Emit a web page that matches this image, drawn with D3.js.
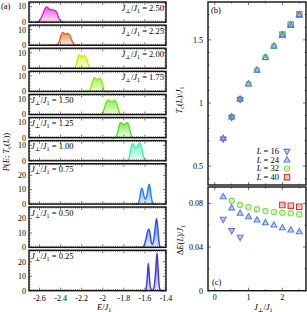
<!DOCTYPE html>
<html>
<head>
<meta charset="utf-8">
<script src="https://cdn.jsdelivr.net/npm/d3@7/dist/d3.min.js"></script>
<style>
    body { margin: 0; background: #fff; }
    svg { display: block; }
    text { font-family: "Liberation Serif", "DejaVu Serif", serif; fill: #000; }
</style>
</head>
<body>
<svg id="chart" width="307" height="312"></svg>
<script>
// ---- panel (a): energy histograms, one per coupling ----
const couplings = ['2.50', '2.25', '2.00', '1.75', '1.50', '1.25', '1.00', '0.75', '0.50', '0.25']
const curveColors = ['#e41fd2', '#e2661e', '#d4ec12', '#86ee10', '#6ce818', '#5ade2a', '#46eeb0', '#2a7cf6', '#2850f4', '#3a34ea']

const dist250 = [[-2.63, 0], [-2.61, 0.3], [-2.59, 2], [-2.57, 5], [-2.55, 8.5], [-2.535, 9.8], [-2.52, 9.3], [-2.5, 8.2], [-2.482, 8], [-2.465, 7.8], [-2.45, 7.4], [-2.435, 6], [-2.42, 3], [-2.4, 0.8], [-2.385, 0], [-2.37, 0]]
const dist225 = [[-2.52, 0], [-2.45, 0], [-2.43, 0.5], [-2.41, 3], [-2.395, 6.5], [-2.38, 8.3], [-2.365, 7.6], [-2.355, 7.2], [-2.34, 7.6], [-2.325, 7.4], [-2.31, 6], [-2.29, 2.5], [-2.27, 0.3], [-2.26, 0], [-2.22, 0]]
const dist200 = [[-2.36, 0], [-2.28, 0], [-2.265, 0.5], [-2.25, 3], [-2.235, 7], [-2.222, 8.8], [-2.21, 8.2], [-2.197, 7.5], [-2.183, 8], [-2.17, 8.1], [-2.155, 6.5], [-2.14, 3], [-2.128, 0.5], [-2.12, 0], [-2.08, 0]]
const dist175 = [[-2.2, 0], [-2.14, 0], [-2.125, 0.5], [-2.11, 3], [-2.095, 7], [-2.08, 9], [-2.066, 8.2], [-2.052, 7.5], [-2.038, 8.2], [-2.025, 8.5], [-2.01, 6.5], [-1.998, 3], [-1.988, 0.5], [-1.98, 0], [-1.93, 0]]
const dist150 = [[-2.06, 0], [-2.02, 0], [-2.005, 0.5], [-1.99, 3], [-1.97, 7.5], [-1.95, 9.5], [-1.932, 8.8], [-1.915, 8], [-1.898, 8.8], [-1.885, 9.3], [-1.868, 7], [-1.85, 3], [-1.835, 0.5], [-1.825, 0], [-1.79, 0]]
const dist125 = [[-1.92, 0], [-1.885, 0], [-1.872, 0.5], [-1.858, 3.5], [-1.845, 7.5], [-1.83, 9.8], [-1.815, 9], [-1.8, 8.2], [-1.785, 9], [-1.768, 9.6], [-1.752, 7.5], [-1.737, 3.5], [-1.722, 0.5], [-1.712, 0], [-1.69, 0]]
const dist100 = [[-1.82, 0], [-1.77, 0], [-1.757, 0.5], [-1.743, 4], [-1.73, 9], [-1.716, 11], [-1.7, 9.5], [-1.685, 8.2], [-1.67, 9.5], [-1.655, 11.2], [-1.645, 11.3], [-1.63, 8], [-1.615, 3], [-1.6, 0.5], [-1.59, 0], [-1.57, 0]]
const dist075 = [[-1.71, 0], [-1.67, 0], [-1.66, 1], [-1.648, 5], [-1.638, 9.5], [-1.63, 11], [-1.62, 9.5], [-1.607, 5], [-1.595, 3.3], [-1.583, 5.5], [-1.57, 11], [-1.56, 13.8], [-1.55, 11], [-1.54, 5], [-1.53, 1.5], [-1.52, 0], [-1.5, 0]]
const dist050 = [[-1.65, 0], [-1.62, 0], [-1.605, 2], [-1.59, 6], [-1.575, 11], [-1.562, 12.6], [-1.55, 9], [-1.538, 3], [-1.528, 2], [-1.515, 6], [-1.502, 14], [-1.49, 20], [-1.478, 14], [-1.468, 5], [-1.458, 0.5], [-1.45, 0], [-1.42, 0]]
const dist025 = [[-1.62, 0], [-1.595, 0], [-1.585, 3], [-1.575, 12], [-1.568, 19], [-1.56, 12], [-1.548, 2], [-1.53, 0.3], [-1.515, 2], [-1.502, 10], [-1.492, 21], [-1.485, 26], [-1.477, 18], [-1.467, 5], [-1.455, 0.5], [-1.445, 0], [-1.42, 0]]
const distributions = [dist250, dist225, dist200, dist175, dist150, dist125, dist100, dist075, dist050, dist025]

const energyTicks = [-2.6, -2.4, -2.2, -2, -1.8, -1.6, -1.4]

// ---- panels (b) and (c): Tc(L) and latent heat vs J_perp ----
const jAll = [0.25, 0.5, 0.75, 1.0, 1.25, 1.5, 1.75, 2.0, 2.25, 2.5]
const jL16 = [0.25, 0.5, 0.75]
const jL32 = [0.5, 0.75, 1.0, 1.25, 1.5, 1.75, 2.0, 2.25, 2.5]
const jL40 = [2.0, 2.25, 2.5]

const tcL16 = [0.715, 0.885, 1.028]
const tcL24 = [0.72, 0.89, 1.03, 1.15, 1.26, 1.36, 1.45, 1.54, 1.62, 1.70]
const tcL32 = [0.892, 1.032, 1.152, 1.262, 1.362, 1.452, 1.542, 1.622, 1.702]
const tcL40 = [1.54, 1.62, 1.70]

const dEL16 = [0.0654, 0.0550, 0.0489]
const dEL24 = [0.0861, 0.0759, 0.0709, 0.0678, 0.0648, 0.0623, 0.0602, 0.0577, 0.0556, 0.0540]
const dEL32 = [0.0824, 0.0785, 0.0764, 0.0746, 0.0730, 0.0721, 0.0714, 0.0709, 0.0700]
const dEL40 = [0.0785, 0.0779, 0.0769]

const sizes = ['16', '24', '32', '40']

const svg = d3.select('#chart')
const defs = svg.append('defs')
const frameColor = '#111'

// Draws a box with inward ticks on all four sides.
function drawFrame(g, x, y, xMinor, xMajor, yMinor, yMajor) {
    const [x0, x1] = x.range()
    const [y1, y0] = y.range()
    const tickPath = d3.path()
    xMinor.forEach(v => {
        const len = xMajor.some(m => Math.abs(m - v) < 1e-6) ? 3 : 1.5
        tickPath.moveTo(x(v), y1); tickPath.lineTo(x(v), y1 - len)
        tickPath.moveTo(x(v), y0); tickPath.lineTo(x(v), y0 + len)
    })
    yMinor.forEach(v => {
        const len = yMajor.some(m => Math.abs(m - v) < 1e-6) ? 3 : 1.5
        tickPath.moveTo(x0, y(v)); tickPath.lineTo(x0 + len, y(v))
        tickPath.moveTo(x1, y(v)); tickPath.lineTo(x1 - len, y(v))
    })
    g.append('path')
        .attr('d', tickPath.toString())
        .attr('stroke', '#333')
        .attr('stroke-width', 0.7)
        .attr('fill', 'none')
    g.append('rect')
        .attr('x', x0).attr('y', y0)
        .attr('width', x1 - x0).attr('height', y1 - y0)
        .attr('fill', 'none')
        .attr('stroke', frameColor)
        .attr('stroke-width', 1.4)
}

// J_perp / J_1 label built from tspans
function couplingLabel(sel, value) {
    sel.append('tspan').attr('font-style', 'italic').text('J')
    sel.append('tspan').attr('font-size', '6px').attr('dy', 2).text('⊥')
    sel.append('tspan').attr('dy', -2).text('/')
    sel.append('tspan').attr('font-style', 'italic').text('J')
    sel.append('tspan').attr('font-size', '6px').attr('dy', 2).text('1')
    if (value !== undefined) sel.append('tspan').attr('dy', -2).text(' = ' + value)
}

// ---------------- panel (a) ----------------
const aLeft = 29, aRight = 166
const xE = d3.scaleLinear().domain([-2.7, -1.4]).range([aLeft, aRight])
const xMinorE = d3.range(0, 66).map(i => +(-2.7 + i * 0.02).toFixed(2))

let panelTop = 2
couplings.forEach((c, i) => {
    const big = i >= 7
    const h = big ? 40.4 : 20.2
    const yMax = big ? 28 : 13
    const y = d3.scaleLinear().domain([0, yMax]).range([panelTop + h, panelTop])
    const g = svg.append('g')

    const grad = defs.append('linearGradient')
        .attr('id', 'grad' + i)
        .attr('x1', 0).attr('y1', 0).attr('x2', 0).attr('y2', 1)
    grad.append('stop').attr('offset', '0%').attr('stop-color', curveColors[i]).attr('stop-opacity', 0.75)
    grad.append('stop').attr('offset', '100%').attr('stop-color', curveColors[i]).attr('stop-opacity', 0.12)

    const area = d3.area().x(d => xE(d[0])).y0(y(0)).y1(d => y(d[1])).curve(d3.curveMonotoneX)
    const line = d3.line().x(d => xE(d[0])).y(d => y(d[1])).curve(d3.curveMonotoneX)

    g.append('path')
        .datum(distributions[i])
        .attr('d', area)
        .attr('fill', `url(#grad${i})`)
    g.append('path')
        .datum(distributions[i])
        .attr('d', line)
        .attr('fill', 'none')
        .attr('stroke', curveColors[i])
        .attr('stroke-width', 1.4)

    const yMajor = big ? [0, 10, 20] : [0, 10]
    const yMinor = d3.range(0, yMax + 0.01, 2)
    drawFrame(g, xE, y, xMinorE, energyTicks, yMinor, yMajor)

    g.selectAll('.ylab')
        .data(yMajor)
        .join('text')
        .attr('x', aLeft - 3)
        .attr('y', d => y(d) + 2.8)
        .attr('text-anchor', 'end')
        .attr('font-size', '8px')
        .text(d => d)

    const lab = g.append('text')
        .attr('font-size', '8.5px')
        .attr('y', panelTop + 8.5)
    if (i < 4) {
        lab.attr('x', aRight - 2).attr('text-anchor', 'end')
    } else {
        lab.attr('x', aLeft + 2)
    }
    couplingLabel(lab, c)

    panelTop += h + 2.9
})

svg.selectAll('.xlabE')
    .data(energyTicks)
    .join('text')
    .attr('x', d => xE(d))
    .attr('y', 301)
    .attr('text-anchor', 'middle')
    .attr('font-size', '8px')
    .text(d => String(d))

const eLab = svg.append('text').attr('x', 97).attr('y', 310).attr('font-size', '8.5px')
eLab.append('tspan').attr('font-style', 'italic').text('E')
eLab.append('tspan').text('/')
eLab.append('tspan').attr('font-style', 'italic').text('J')
eLab.append('tspan').attr('font-size', '6px').attr('dy', 2).text('1')

const pLab = svg.append('text')
    .attr('transform', 'translate(9,152) rotate(-90)')
    .attr('text-anchor', 'middle')
    .attr('font-size', '8.5px')
pLab.append('tspan').attr('font-style', 'italic').text('P')
pLab.append('tspan').text('(')
pLab.append('tspan').attr('font-style', 'italic').text('E')
pLab.append('tspan').text('; ')
pLab.append('tspan').attr('font-style', 'italic').text('T')
pLab.append('tspan').attr('font-size', '6px').attr('dy', 2).text('c')
pLab.append('tspan').attr('dy', -2).text('(')
pLab.append('tspan').attr('font-style', 'italic').text('L')
pLab.append('tspan').text('))')

svg.append('text').attr('x', 1).attr('y', 9).attr('font-size', '8.5px').text('(a)')

// ---------------- panels (b) and (c) ----------------
const xJ = d3.scaleLinear().domain([-0.2, 2.7]).range([208, 306])
const yTc = d3.scaleLinear().domain([0.35, 1.8]).range([185, 2])
const yDE = d3.scaleLinear().domain([0, 0.095]).range([290.7, 187])

const markerStyle = {
    '16': {color: '#6a66ee', shape: 'down'},
    '24': {color: '#4a78f2', shape: 'up'},
    '32': {color: '#7ee04c', shape: 'circle'},
    '40': {color: '#e22e2a', shape: 'square'}
}

function markerPath(shape) {
    if (shape === 'up') return 'M0,-3.2L2.9,2L-2.9,2Z'
    if (shape === 'down') return 'M0,3.2L2.9,-2L-2.9,-2Z'
    if (shape === 'square') return 'M-2.7,-2.7H2.7V2.7H-2.7Z'
    return d3.symbol(d3.symbolCircle, 22)()
}

function drawSeries(g, xs, ys, yScale, L) {
    const st = markerStyle[L]
    const pts = xs.map((v, k) => [v, ys[k]])
    const m = g.selectAll('.m' + L)
        .data(pts)
        .join('g')
        .attr('class', 'm' + L)
        .attr('transform', d => `translate(${xJ(d[0])},${yScale(d[1])})`)
    m.append('path')
        .attr('d', markerPath(st.shape))
        .attr('fill', st.color)
        .attr('fill-opacity', 0.18)
        .attr('stroke', st.color)
        .attr('stroke-width', 1.1)
    m.append('circle').attr('r', 0.5).attr('fill', st.color)
}

const gB = svg.append('g')
drawFrame(gB, xJ, yTc, d3.range(0, 2.51, 0.5), [0, 1, 2], d3.range(4, 18).map(k => k / 10), [0.5, 1, 1.5])
drawSeries(gB, jL40, tcL40, yTc, '40')
drawSeries(gB, jL32, tcL32, yTc, '32')
drawSeries(gB, jAll, tcL24, yTc, '24')
drawSeries(gB, jL16, tcL16, yTc, '16')

gB.selectAll('.ytc')
    .data([0.5, 1, 1.5])
    .join('text')
    .attr('x', 203)
    .attr('y', d => yTc(d) + 2.8)
    .attr('text-anchor', 'end')
    .attr('font-size', '8px')
    .text(d => String(d))

svg.append('text').attr('x', 211).attr('y', 13).attr('font-size', '8.5px').text('(b)')

// legend
sizes.forEach((L, k) => {
    const yy = 154 + k * 8.6
    const t = gB.append('text').attr('x', 279).attr('y', yy).attr('text-anchor', 'end').attr('font-size', '8.5px')
    t.append('tspan').attr('font-style', 'italic').text('L')
    t.append('tspan').text(' = ' + L)
    const st = markerStyle[L]
    const mk = gB.append('g').attr('transform', `translate(287,${yy - 2.6})`)
    mk.append('path').attr('d', markerPath(st.shape)).attr('fill', st.color).attr('fill-opacity', 0.18)
        .attr('stroke', st.color).attr('stroke-width', 1.1)
    mk.append('circle').attr('r', 0.5).attr('fill', st.color)
})

const tcLab = svg.append('text')
    .attr('transform', 'translate(182,100) rotate(-90)')
    .attr('text-anchor', 'middle')
    .attr('font-size', '8.5px')
tcLab.append('tspan').attr('font-style', 'italic').text('T')
tcLab.append('tspan').attr('font-size', '6px').attr('dy', 2).text('c')
tcLab.append('tspan').attr('dy', -2).text('(')
tcLab.append('tspan').attr('font-style', 'italic').text('L')
tcLab.append('tspan').text(')/')
tcLab.append('tspan').attr('font-style', 'italic').text('J')
tcLab.append('tspan').attr('font-size', '6px').attr('dy', 2).text('1')

const gC = svg.append('g')
drawFrame(gC, xJ, yDE, d3.range(0, 2.51, 0.5), [0, 1, 2], [0, 0.02, 0.04, 0.06, 0.08], [0, 0.04, 0.08])
drawSeries(gC, jL40, dEL40, yDE, '40')
drawSeries(gC, jL32, dEL32, yDE, '32')
drawSeries(gC, jAll, dEL24, yDE, '24')
drawSeries(gC, jL16, dEL16, yDE, '16')

gC.selectAll('.yde')
    .data([0, 0.04, 0.08])
    .join('text')
    .attr('x', 203)
    .attr('y', d => yDE(d) + 2.8)
    .attr('text-anchor', 'end')
    .attr('font-size', '8px')
    .text(d => String(d))

gC.selectAll('.xj')
    .data([0, 1, 2])
    .join('text')
    .attr('x', d => xJ(d))
    .attr('y', 300)
    .attr('text-anchor', 'middle')
    .attr('font-size', '8px')
    .text(d => d)

svg.append('text').attr('x', 212).attr('y', 285).attr('font-size', '8.5px').text('(c)')

const jLab = svg.append('text').attr('x', 254).attr('y', 310).attr('font-size', '8.5px')
couplingLabel(jLab)

const deLab = svg.append('text')
    .attr('transform', 'translate(183,240) rotate(-90)')
    .attr('text-anchor', 'middle')
    .attr('font-size', '8.5px')
deLab.append('tspan').text('Δ')
deLab.append('tspan').attr('font-style', 'italic').text('E')
deLab.append('tspan').text('(')
deLab.append('tspan').attr('font-style', 'italic').text('L')
deLab.append('tspan').text(')/')
deLab.append('tspan').attr('font-style', 'italic').text('J')
deLab.append('tspan').attr('font-size', '6px').attr('dy', 2).text('1')
</script>
</body>
</html>
